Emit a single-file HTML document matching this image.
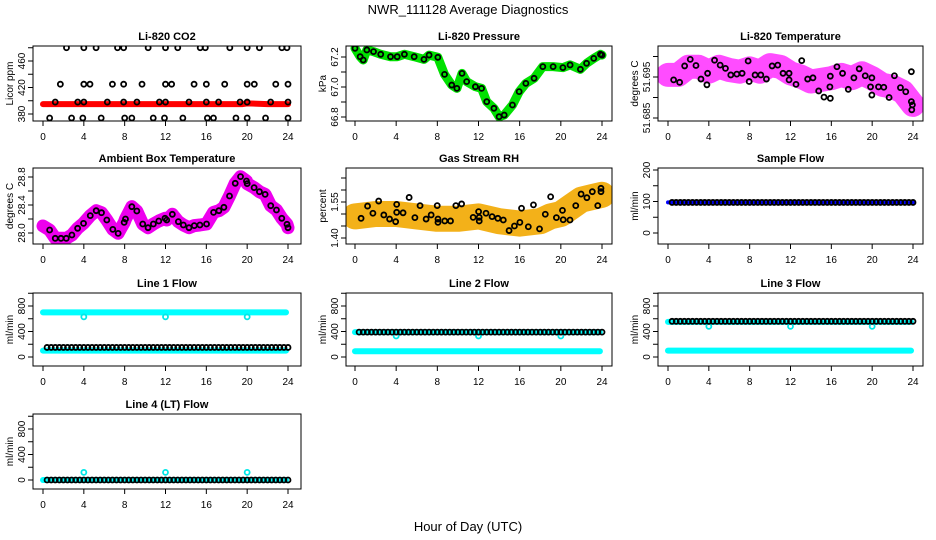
<!DOCTYPE html>
<html><head><meta charset="utf-8"><style>
html,body{margin:0;padding:0;background:#fff;}
svg{display:block;font-family:"Liberation Sans",sans-serif;}
</style></head><body>
<svg id="chart" width="936" height="540" viewBox="0 0 936 540">
<text x="468" y="14" text-anchor="middle" font-size="13">NWR_111128  Average Diagnostics</text>
<text x="468" y="531" text-anchor="middle" font-size="13">Hour of Day (UTC)</text>
</svg>
<script>
// ---- CO2 ----
const co2Top_h=[2.3,4.0,5.2,7.3,7.9,10.3,12.0,13.2,15.4,15.9,18.3,20.0,21.2,23.4,23.9];
const co2Top_v=[480,480,480,480,480,480,480,480,480,480,480,480,480,480,480];
const co2Mid_h=[1.7,4.0,4.6,6.8,7.9,9.7,12.0,12.6,14.8,16.0,17.8,20.0,20.7,22.8,24.0];
const co2Mid_v=[425,425,425,425,425,425,425,425,425,425,425,425,425,425,425];
const co2Low_h=[1.2,3.4,4.0,6.3,7.9,9.2,11.4,12.0,14.3,16.0,17.2,19.3,20.0,22.3,24.0];
const co2Low_v=[398,398,398,398,398,398,398,398,398,398,398,398,398,398,398];
const co2Bot_h=[0.65,2.8,3.9,5.7,8.0,8.7,10.8,11.9,13.7,16.1,16.7,18.9,20.0,21.8,24.0];
const co2Bot_v=[374,374,374,374,374,374,374,374,374,374,374,374,374,374,374];
const co2Red_h=[0,4,8,12,16,19.5,20,22,24];
const co2Red_v=[395,395,395,395,395,395,396,395,395];
// ---- Pressure ----
const pres_h=[0,0.5,0.8,1.15,1.8,2.5,3.45,4.1,4.8,5.75,6.7,7.2,8.05,8.7,9.4,9.9,10.4,10.85,11.7,12.3,12.8,13.5,14.0,14.5,15.3,15.95,16.6,17.4,18.25,19.25,20.2,20.9,21.9,22.5,23.2,23.85,24];
const pres_v=[67.258,67.202,67.18,67.247,67.236,67.218,67.202,67.202,67.218,67.202,67.184,67.213,67.198,67.084,67.013,66.991,67.091,67.036,67.002,66.991,66.902,66.858,66.802,66.813,66.88,66.969,67.024,67.058,67.136,67.136,67.129,67.147,67.118,67.158,67.191,67.218,67.213];
// ---- Li-820 Temperature ----
const tmpBand_h=[0,1,2,3,4,5,6,7,8,9,10,11,12,13,14,15,16,17,18,19,20,21,22,23,24];
const tmpBand_v=[51.6955,51.6955,51.6975,51.6975,51.6963,51.6975,51.6967,51.6963,51.6971,51.6963,51.6979,51.6975,51.6959,51.6951,51.6939,51.6943,51.6947,51.6955,51.6947,51.6959,51.6947,51.6931,51.6926,51.6914,51.6882];
const tmpBlk_h=[0.55,1.14,1.63,2.18,2.74,3.23,3.81,3.88,4.56,5.11,5.63,6.15,6.74,7.26,7.85,7.95,8.53,9.09,9.64,10.2,10.75,11.27,11.86,11.86,12.54,13.1,13.68,14.2,14.76,15.28,15.86,15.9,15.9,16.55,17.1,17.66,18.21,18.73,19.32,19.84,19.97,19.97,20.62,21.14,21.66,22.18,22.77,23.29,23.84,23.84,23.94,23.88];
const tmpBlk_v=[51.6943,51.6937,51.6977,51.6993,51.6978,51.6945,51.6931,51.6959,51.6991,51.6979,51.6971,51.6955,51.6957,51.6959,51.6989,51.6939,51.6955,51.6955,51.6945,51.6977,51.6979,51.6959,51.6959,51.6943,51.6932,51.6990,51.6945,51.6948,51.6916,51.6901,51.6926,51.6952,51.6898,51.6975,51.6959,51.6920,51.6948,51.6970,51.6953,51.6926,51.6948,51.6906,51.6926,51.6925,51.6900,51.6953,51.6924,51.6914,51.6963,51.6890,51.6882,51.6870];
// ---- Ambient Box Temperature ----
const amb_h=[0,0.65,1.2,1.76,2.28,2.83,3.39,3.97,4.63,5.21,5.73,6.25,6.84,7.36,7.95,8.08,8.7,9.19,9.77,10.29,10.81,11.34,11.95,12.12,12.67,13.26,13.75,14.3,14.82,15.37,16.02,16.71,17.23,17.72,18.27,18.83,19.35,19.93,20.0,20.68,21.2,21.76,22.31,22.87,23.39,23.9,24.0];
const amb_v=[28.10,28.043,27.924,27.924,27.924,27.971,28.067,28.138,28.248,28.319,28.29,28.186,28.052,27.995,28.152,28.2,28.376,28.314,28.129,28.076,28.129,28.171,28.21,28.186,28.267,28.162,28.114,28.076,28.105,28.114,28.129,28.295,28.319,28.367,28.529,28.71,28.805,28.743,28.705,28.648,28.59,28.552,28.39,28.329,28.21,28.124,28.076];
// ---- Gas Stream RH ----
const rhBand_h=[0,2,4,6,8,10,12,14,16,18,19,20,21,22,23,24];
const rhBand_v=[1.49,1.50,1.50,1.49,1.48,1.48,1.49,1.47,1.46,1.47,1.49,1.50,1.53,1.56,1.57,1.58];
const rhBlk_h=[0.59,1.22,1.74,2.3,2.8,3.36,3.95,4.05,4.05,4.67,5.26,5.82,6.32,6.91,7.4,7.99,8.06,8.06,8.72,9.28,9.8,10.36,11.48,12.01,12.07,12.07,12.73,13.32,13.88,14.41,14.97,15.49,16.02,16.18,16.84,17.34,17.93,18.49,19.01,19.57,20.16,20.23,20.89,21.45,21.97,22.53,23.06,23.59,23.9,23.9];
const rhBlk_v=[1.482,1.533,1.503,1.554,1.496,1.479,1.468,1.540,1.507,1.505,1.569,1.485,1.535,1.479,1.496,1.535,1.479,1.465,1.471,1.471,1.535,1.542,1.486,1.51,1.486,1.471,1.503,1.489,1.482,1.475,1.431,1.45,1.465,1.524,1.447,1.538,1.438,1.499,1.572,1.485,1.515,1.476,1.475,1.535,1.583,1.568,1.593,1.535,1.607,1.593];
// ---- Flows (hour of every black marker) ----
const flowHours=[0.4,0.8,1.2,1.6,2.0,2.4,2.8,3.2,3.6,4.0,4.4,4.8,5.2,5.6,6.0,6.4,6.8,7.2,7.6,8.0,8.4,8.8,9.2,9.6,10.0,10.4,10.8,11.2,11.6,12.0,12.4,12.8,13.2,13.6,14.0,14.4,14.8,15.2,15.6,16.0,16.4,16.8,17.2,17.6,18.0,18.4,18.8,19.2,19.6,20.0,20.4,20.8,21.2,21.6,22.0,22.4,22.8,23.2,23.6,24.0];
const dipHours=[4,12,20];
const sampleBlue=[97,97];
const sampleBlack=[97];
const line1Cyan=[700,100]; const line1Dip=[630,630,630]; const line1Black=[150];
const line2Cyan=[390,90];  const line2Dip=[330,330,330]; const line2Black=[390];
const line3Cyan=[550,100]; const line3Dip=[480,480,480]; const line3Black=[560];
const line4Cyan=[0];       const line4Dip=[120,120,120]; const line4Black=[0];

const NS='http://www.w3.org/2000/svg';
const svg=document.getElementById('chart');
function mk(tag,attrs,parent){const e=document.createElementNS(NS,tag);for(const k in attrs)e.setAttribute(k,attrs[k]);parent.appendChild(e);return e;}

function panel(p){
  const g=mk('g',{},svg);
  
  
  const sx=h=>p.x0+h*(p.x24-p.x0)/24;
  const sy=v=>p.ya+(v-p.va)*(p.yb-p.ya)/(p.vb-p.va);
  p.sx=sx;p.sy=sy;p.g=g;
  const t=mk('text',{x:(p.l+p.r)/2,y:p.t-6,'text-anchor':'middle','font-size':11,'font-weight':'bold'},g);
  t.textContent=p.title;
  
  
  const yl=mk('text',{transform:`translate(${p.l-20},${(p.t+p.b)/2}) rotate(-90)`,'text-anchor':'middle','font-size':10},g);
  yl.textContent=p.ylab;
  
  
  for(let h=0;h<=24;h+=4){
    const tk=mk('line',{x1:sx(h),x2:sx(h),y1:p.b,y2:p.b+5,stroke:'#000'},g);
    
    
    const tl=mk('text',{x:sx(h),y:p.b+19,'text-anchor':'middle','font-size':10},g);
    tl.textContent=h;
    
    
  }
  const xa=mk('line',{x1:sx(0),x2:sx(24),y1:p.b,y2:p.b,stroke:'#000'},g);
  
  
  p.ticks.forEach(v=>{
    const tk=mk('line',{x1:p.l-5,x2:p.l,y1:sy(v),y2:sy(v),stroke:'#000'},g);
    
    
  });
  p.labels.forEach(v=>{
    const tl=mk('text',{transform:`translate(${p.l-8},${sy(v)}) rotate(-90)`,'text-anchor':'middle','font-size':10},g);
    tl.textContent=p.fmt(v);
    
    
  });
  const clip=mk('clipPath',{id:'c_'+p.name},g);
  mk('rect',{x:p.l,y:p.t,width:p.r-p.l,height:p.b-p.t},clip);
  p.plot=mk('g',{'clip-path':`url(#c_${p.name})`},g);
  
  
  return p;
}
function finish(p){
  const bx=mk('rect',{x:p.l,y:p.t,width:p.r-p.l,height:p.b-p.t,fill:'none',stroke:'#000'},p.g);
  
  
}
function line(p,hs,vs,color,w,op){
  const d=hs.map((h,i)=>(i?'L':'M')+p.sx(h).toFixed(1)+','+p.sy(vs[i]).toFixed(1)).join('');
  const e=mk('path',{d:d,fill:'none',stroke:color,'stroke-width':w,'stroke-linejoin':'round','stroke-linecap':'round','stroke-opacity':op||1},p.plot);
  
  
}
function pts(p,hs,vs,color){
  hs.forEach((h,i)=>{
    const c=mk('circle',{cx:p.sx(h),cy:p.sy(vs[i]),r:2.5,fill:'none',stroke:color,'stroke-width':1.8},p.plot);
    
    
  });
}
const f0=v=>String(v), f1=v=>v.toFixed(1), f2=v=>v.toFixed(2), f3=v=>v.toFixed(3);
const C1={l:33,r:301,x0:43,x24:288}, C2={l:346,r:612,x0:355,x24:602}, C3={l:658,r:923,x0:668,x24:913};
const R1={t:46,b:121},R2={t:168,b:244},R3={t:293,b:366},R4={t:414,b:489};

// CO2
let p=panel(Object.assign({name:'co2-panel',title:'Li-820 CO2',ylab:'Licor ppm',va:380,ya:114,vb:460,yb:61,ticks:[380,400,420,440,460,480],labels:[380,420,460],fmt:f0},C1,R1));
line(p,co2Red_h,co2Red_v,'#f00',6);
pts(p,co2Top_h,co2Top_v,'#000');pts(p,co2Mid_h,co2Mid_v,'#000');pts(p,co2Low_h,co2Low_v,'#000');pts(p,co2Bot_h,co2Bot_v,'#000');
finish(p);
// Pressure
p=panel(Object.assign({name:'pressure-panel',title:'Li-820 Pressure',ylab:'kPa',va:66.8,ya:117,vb:67.2,yb:57,ticks:[66.8,66.9,67.0,67.1,67.2],labels:[66.8,67.0,67.2],fmt:f1},C2,R1));
line(p,pres_h,pres_v,'#00e000',9);
pts(p,pres_h,pres_v,'#000');
finish(p);
// Li-820 Temperature
p=panel(Object.assign({name:'li820-temperature-panel',title:'Li-820 Temperature',ylab:'degrees C',va:51.685,ya:118,vb:51.695,yb:77,ticks:[51.685,51.69,51.695,51.70],labels:[51.685,51.695],fmt:f3},C3,R1));
line(p,tmpBand_h,tmpBand_v,'#ff00ff',24,0.7);
pts(p,tmpBlk_h,tmpBlk_v,'#000');
finish(p);
// Ambient
p=panel(Object.assign({name:'ambient-temperature-panel',title:'Ambient Box Temperature',ylab:'degrees C',va:28.0,ya:233,vb:28.8,yb:177,ticks:[28.0,28.2,28.4,28.6,28.8],labels:[28.0,28.4,28.8],fmt:f1},C1,R2));
line(p,amb_h,amb_v,'#ee00ee',13);
pts(p,amb_h.slice(1),amb_v.slice(1),'#000');
finish(p);
// RH
p=panel(Object.assign({name:'gas-stream-rh-panel',title:'Gas Stream RH',ylab:'percent',va:1.40,ya:238,vb:1.55,yb:202,ticks:[1.40,1.45,1.50,1.55,1.60,1.65],labels:[1.40,1.55],fmt:f2},C2,R2));
line(p,rhBand_h,rhBand_v,'#f2a800',26,0.9);
pts(p,rhBlk_h,rhBlk_v,'#000');
finish(p);
// Sample flow
p=panel(Object.assign({name:'sample-flow-panel',title:'Sample Flow',ylab:'ml/min',va:0,ya:233,vb:200,yb:170,ticks:[0,50,100,150,200],labels:[0,100,200],fmt:f0},C3,R2));
line(p,[0,24],sampleBlue,'#0000ff',4);
pts(p,flowHours,flowHours.map(()=>sampleBlack[0]),'#000');
finish(p);
// Line flows
const flowCfg={va:0,vb:800,ticks:[0,200,400,600,800,1000],labels:[0,400,800],fmt:f0,ylab:'ml/min'};
function flowPanel(name,title,col,row,cyan,dip,black,ya,yb){
  const q=panel(Object.assign({name:name,title:title,ya:ya,yb:yb},flowCfg,col,row));
  cyan.forEach(v=>line(q,[0,23.8],[v,v],'#00ffff',6));
  pts(q,dipHours,dip,'#00e8e8');
  pts(q,flowHours,flowHours.map(()=>black[0]),'#000');
  finish(q);
}
flowPanel('line1-flow-panel','Line 1 Flow',C1,R3,line1Cyan,line1Dip,line1Black,357,306);
flowPanel('line2-flow-panel','Line 2 Flow',C2,R3,line2Cyan,line2Dip,line2Black,357,306);
flowPanel('line3-flow-panel','Line 3 Flow',C3,R3,line3Cyan,line3Dip,line3Black,357,306);
flowPanel('line4-flow-panel','Line 4 (LT) Flow',C1,R4,line4Cyan,line4Dip,line4Black,480,429);
</script>
</body></html>
